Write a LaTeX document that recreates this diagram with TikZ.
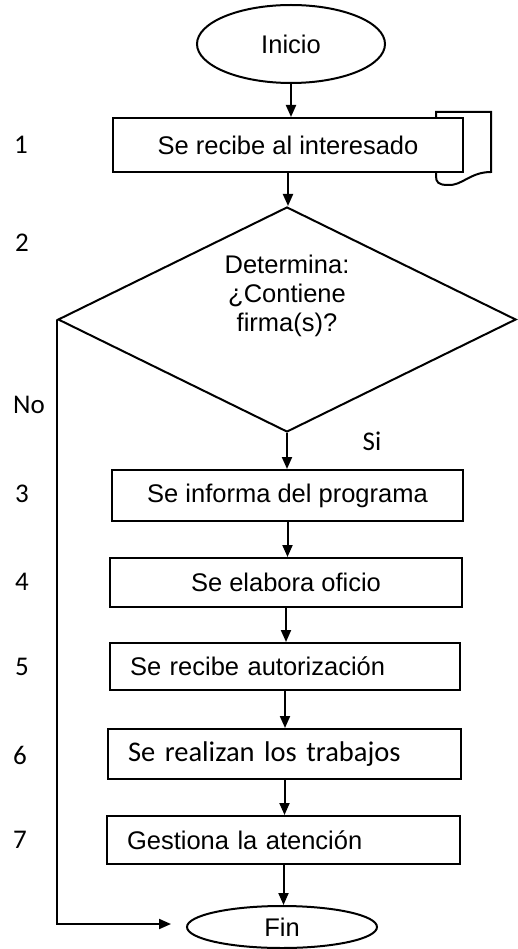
\documentclass[tikz,border=0pt]{standalone}
\usepackage{fontspec}
\setmainfont{Liberation Sans}
\newfontfamily\calfont{Carlito}
\usetikzlibrary{shapes.geometric,arrows.meta}
\begin{document}
\begin{tikzpicture}[x=1pt,y=-1pt,
  every node/.style={font=\fontsize{25.5}{29}\selectfont},
  proc/.style={draw, line width=2pt, fill=white, inner sep=0pt},
  procl/.style={proc, text width=#1, align=left, inner xsep=20pt},
  term/.style={draw, ellipse, line width=2pt, inner sep=0pt},
  decision/.style={draw, diamond, line width=2pt, inner sep=0pt, aspect=2.04, minimum width=458pt, minimum height=225pt},
  arr/.style={line width=2pt, -{Triangle[width=10pt,length=12pt]}},
  num/.style={font=\calfont\fontsize{27}{30}\selectfont}
]
\useasboundingbox (0,0) rectangle (517,949);

% terminals
\node[term, minimum width=188pt, minimum height=78pt] (ini) at (291,44) {Inicio};
\node[term, minimum width=190pt, minimum height=42pt] (fin) at (282,927) {Fin};

% document shape behind box 1
\draw[line width=2pt, fill=white] (436,112) -- (491,112) -- (491,172)
  .. controls (470,172) and (462,186) .. (448,185)
  .. controls (438,185) and (436,182) .. (436,176) -- cycle;

% process boxes
\node[proc, minimum width=350pt, minimum height=54pt] (b1) at (288,145) {Se recibe al interesado};
\node[decision] (d) at (287,319.5) {};
\node[align=center] (dtxt) at (287,296) {Determina:\\¿Contiene\\firma(s)?};
\node[proc, minimum width=351pt, minimum height=51pt] (b3) at (287.5,495.5) {Se informa del programa};
\node[proc, minimum width=352pt, minimum height=49pt] (b4) at (286,582.5) {Se elabora oficio};
\node[procl=310pt, minimum height=47pt] (b5) at (285,666.5) {Se recibe autorización};
\node[procl=313pt, minimum height=50pt, font=\calfont\fontsize{28.5}{31}\selectfont] (b6) at (284.5,754) {Se realizan los trabajos};
\node[procl=313pt, minimum height=48pt] (b7) at (283.5,840) {Gestiona la atención};

% connectors
\draw[arr] (ini.south) -- (ini.south |- b1.north);
\draw[arr] (b1.south) -- (b1.south |- d.north);
\draw[arr] (d.south) -- (d.south |- b3.north);
\draw[arr] (b3.south) -- (b3.south |- b4.north);
\draw[arr] (b4.south) -- (b4.south |- b5.north);
\draw[arr] (b5.south) -- (b5.south |- b6.north);
\draw[arr] (b6.south) -- (b6.south |- b7.north);
\draw[arr] (b7.south) -- (b7.south |- fin.north);
\coordinate (noend) at (171,924);
\draw[arr] (d.west) |- (noend);

% labels
\node[num] (si) at (372,441) {Si};
\node[num] (no) at (29,405) {No};
\node[num] (n1) at (21,145) {1};
\node[num] (n2) at (22,243) {2};
\node[num] (n3) at (22,494) {3};
\node[num] (n4) at (22,582) {4};
\node[num] (n5) at (22,667) {5};
\node[num] (n6) at (20,755) {6};
\node[num] (n7) at (20,840) {7};
\end{tikzpicture}
\end{document}
